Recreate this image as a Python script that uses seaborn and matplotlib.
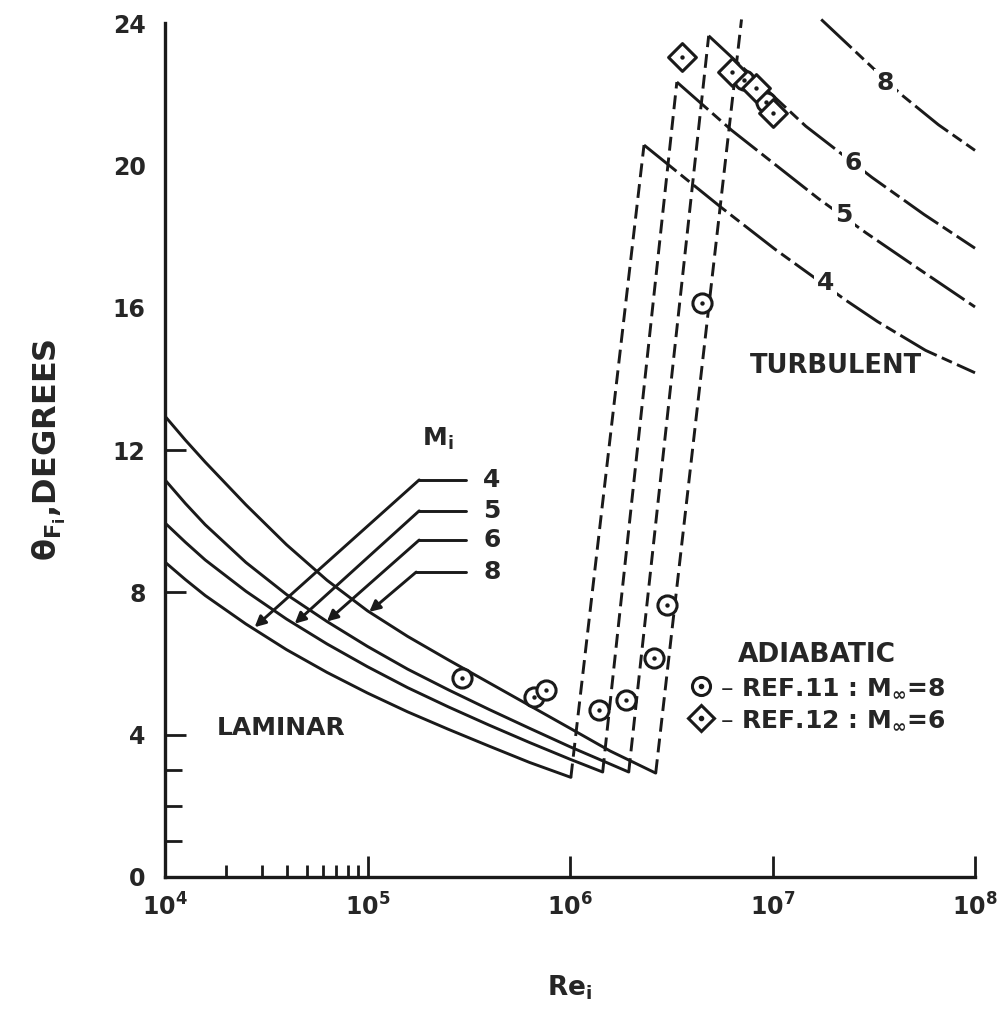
import numpy as np
import pandas as pd
import matplotlib
matplotlib.use("Agg")
import matplotlib.pyplot as plt
import seaborn as sns
from matplotlib.lines import Line2D
from matplotlib.legend_handler import HandlerTuple
from matplotlib.ticker import FixedLocator, NullFormatter

# ---------------- data ----------------
mach_labels = ["4", "5", "6", "8"]

# laminar curves (solid)
lam_re_m4 = [1e4, 1.26e4, 1.58e4, 2.51e4, 3.98e4, 6.31e4, 1e5, 1.58e5, 2.51e5, 3.98e5, 6.31e5, 1.01e6]
lam_th_m4 = [8.85, 8.36, 7.91, 7.11, 6.39, 5.75, 5.17, 4.64, 4.15, 3.68, 3.22, 2.8]
lam_re_m5 = [1e4, 1.26e4, 1.58e4, 2.51e4, 3.98e4, 6.31e4, 1e5, 1.58e5, 2.51e5, 3.98e5, 6.31e5, 1e6, 1.45e6]
lam_th_m5 = [9.95, 9.41, 8.91, 8.03, 7.25, 6.55, 5.91, 5.32, 4.78, 4.27, 3.78, 3.31, 2.95]
lam_re_m6 = [1e4, 1.26e4, 1.58e4, 2.51e4, 3.98e4, 6.31e4, 1e5, 1.58e5, 2.51e5, 3.98e5, 6.31e5, 1e6, 1.95e6]
lam_th_m6 = [11.16, 10.5, 9.9, 8.84, 7.94, 7.18, 6.48, 5.84, 5.26, 4.71, 4.18, 3.66, 2.95]
lam_re_m8 = [1e4, 1.26e4, 1.58e4, 2.51e4, 3.98e4, 6.31e4, 1e5, 1.58e5, 2.51e5, 3.98e5, 6.31e5, 1e6, 1.58e6, 2.65e6]
lam_th_m8 = [12.95, 12.28, 11.66, 10.46, 9.34, 8.34, 7.48, 6.76, 6.10, 5.46, 4.82, 4.18, 3.54, 2.92]

# turbulent curves (long/short dashes)
turb_re_m4 = [2.32e6, 5.6e6, 1.03e7, 2.3e7, 3.3e7, 5.7e7, 1e8]
turb_th_m4 = [20.57, 18.81, 17.64, 16.21, 15.61, 14.80, 14.17]
turb_re_m5 = [3.37e6, 6.3e6, 1.69e7, 2.9e7, 5.4e7, 1e8]
turb_th_m5 = [22.34, 20.98, 19.06, 18.1, 17.05, 16.02]
turb_re_m6 = [4.84e6, 1.46e7, 3.1e7, 5.6e7, 1e8]
turb_th_m6 = [23.64, 21.1, 19.66, 18.62, 17.67]
turb_re_m8 = [1.74e7, 4.3e7, 6.6e7, 1e8]
turb_th_m8 = [24.1, 22.0, 21.14, 20.42]
turb_top_re_m8 = 7.03e6   # where the M=8 transition leaves the chart
turb_top_th_m8 = 24.1

# experimental points
ref11_re = [2.94e5, 6.65e5, 7.6e5, 1.39e6, 1.89e6, 2.6e6, 3.0e6, 4.47e6, 7.2e6, 9.3e6]
ref11_th = [5.59, 5.06, 5.26, 4.69, 4.97, 6.15, 7.64, 16.13, 22.4, 21.78]
ref12_re = [3.56e6, 6.28e6, 8.3e6, 1.01e7]
ref12_th = [23.05, 22.63, 22.17, 21.47]

x_ticks = [1e4, 1e5, 1e6, 1e7, 1e8]
x_ticklabels = [r"$\mathbf{10^{4}}$", r"$\mathbf{10^{5}}$", r"$\mathbf{10^{6}}$",
                r"$\mathbf{10^{7}}$", r"$\mathbf{10^{8}}$"]
x_minor = [2e4, 3e4, 4e4, 5e4, 6e4, 7e4, 8e4, 9e4]
y_ticks = [0, 4, 8, 12, 16, 20, 24]
y_minor = [1, 2, 3]

# ---------------- style ----------------
sns.set_theme(style="white")
plt.rcParams['font.family'] = ['DejaVu Sans']
plt.rcParams['font.weight'] = 'bold'
plt.rcParams['mathtext.fontset'] = 'dejavusans'
plt.rcParams['mathtext.default'] = 'bf'
plt.rcParams['lines.scale_dashes'] = False

fig = plt.figure(figsize=(10.07, 10.25), dpi=100)
ax = fig.add_axes([165/1007, 1-877/1025, 810/1007, (877-23)/1025])
ax.set_xscale('log')
ax.set_xlim(1e4, 1e8)
ax.set_ylim(0, 24)

LW = 2.1
lam = [(lam_re_m4, lam_th_m4), (lam_re_m5, lam_th_m5), (lam_re_m6, lam_th_m6), (lam_re_m8, lam_th_m8)]
turb = [(turb_re_m4, turb_th_m4), (turb_re_m5, turb_th_m5), (turb_re_m6, turb_th_m6), (turb_re_m8, turb_th_m8)]

for (lr, lt) in lam:
    sns.lineplot(x=lr, y=lt, ax=ax, color='k', lw=LW, sort=False, estimator=None)

turb_style = (0, (30, 4, 8, 4))
for (tr, tt) in turb:
    sns.lineplot(x=tr, y=tt, ax=ax, color='k', lw=LW, sort=False, estimator=None,
                 linestyle=turb_style, clip_on=False)

# transition (dashed) lines from laminar end to turbulent start
trans_end_re = [turb_re_m4[0], turb_re_m5[0], turb_re_m6[0], turb_top_re_m8]
trans_end_th = [turb_th_m4[0], turb_th_m5[0], turb_th_m6[0], turb_top_th_m8]
for (lr, lt), er, et in zip(lam, trans_end_re, trans_end_th):
    sns.lineplot(x=[lr[-1], er], y=[lt[-1], et], ax=ax, color='k', lw=LW, sort=False,
                 estimator=None, linestyle=(0, (10, 5)), clip_on=False)

# turbulent curve labels
turb_lab_pos = [(1.82e7, 16.7), (2.24e7, 18.6), (2.5e7, 20.07), (3.6e7, 22.3)]
for lab, (px, py) in zip(mach_labels, turb_lab_pos):
    ax.text(px, py, lab, fontsize=18, fontweight='bold', ha='center', va='center',
            bbox=dict(facecolor='white', edgecolor='none', pad=2), zorder=4)

# experimental points
sns.scatterplot(x=ref11_re, y=ref11_th, ax=ax, marker='o', s=190, facecolor='white',
                edgecolor='k', linewidth=2.2, zorder=5)
sns.scatterplot(x=ref11_re, y=ref11_th, ax=ax, marker='o', s=10, color='k',
                edgecolor='k', linewidth=0, zorder=5)
sns.scatterplot(x=ref12_re, y=ref12_th, ax=ax, marker='D', s=200, facecolor='white',
                edgecolor='k', linewidth=2.2, zorder=6)
sns.scatterplot(x=ref12_re, y=ref12_th, ax=ax, marker='o', s=10, color='k',
                edgecolor='k', linewidth=0, zorder=6)

# M_i leaders
corner_re = [1.8e5, 1.8e5, 1.8e5, 1.74e5]
line_end_re = 3.06e5
leader_th = [11.16, 10.29, 9.47, 8.57]
tip_re = [2.77e4, 4.37e4, 6.3e4, 1.02e5]
tip_th = [7.02, 7.12, 7.18, 7.45]
for lab, cr, lt, tr, tt in zip(mach_labels, corner_re, leader_th, tip_re, tip_th):
    ax.plot([cr, line_end_re], [lt, lt], color='k', lw=LW)
    ax.annotate('', xy=(tr, tt), xytext=(cr, lt),
                arrowprops=dict(arrowstyle='-|>', color='k', lw=LW, mutation_scale=16,
                                shrinkA=0, shrinkB=0))
    ax.text(3.72e5, lt, lab, fontsize=18, fontweight='bold', ha='left', va='center')
ax.text(2.22e5, 12.3, r"$\mathbf{M_{i}}$", fontsize=18, ha='center', va='center')

ax.text(3.75e4, 4.2, "LAMINAR", fontsize=18, fontweight='bold', ha='center', va='center')
ax.text(2.05e7, 14.35, "TURBULENT", fontsize=18.5, fontweight='bold', ha='center', va='center')

# legend
h11 = (Line2D([], [], marker='o', ms=13, mfc='white', mec='k', mew=2.2, ls=''),
       Line2D([], [], marker='o', ms=3, color='k', ls=''))
h12 = (Line2D([], [], marker='D', ms=13, mfc='white', mec='k', mew=2.2, ls=''),
       Line2D([], [], marker='o', ms=3, color='k', ls=''))
leg = ax.legend([h11, h12], [r"– REF.11 : M$_{\infty}$=8", r"– REF.12 : M$_{\infty}$=6"],
                title="ADIABATIC", handler_map={tuple: HandlerTuple(ndivide=1)},
                frameon=False, loc='upper left', bbox_to_anchor=(676/1007, 1-629/1025),
                bbox_transform=fig.transFigure, fontsize=18, title_fontsize=19,
                handlelength=1.0, handletextpad=0.25, labelspacing=0.32, borderpad=0)
leg.get_title().set_fontweight('bold')
for t in leg.get_texts():
    t.set_fontweight('bold')

# axes / ticks
sns.despine(ax=ax)
for s in ['left', 'bottom']:
    ax.spines[s].set_linewidth(2.4)
    ax.spines[s].set_color('k')
ax.set_xticks(x_ticks)
ax.set_xticklabels(x_ticklabels, fontsize=17)
ax.xaxis.set_minor_locator(FixedLocator(x_minor))
ax.xaxis.set_minor_formatter(NullFormatter())
ax.set_yticks(y_ticks)
ax.set_yticklabels([str(v) for v in y_ticks], fontsize=17, fontweight='bold')
ax.yaxis.set_minor_locator(FixedLocator(y_minor))
ax.tick_params(axis='both', which='both', direction='in', color='k', width=2, bottom=True, left=True)
ax.tick_params(axis='x', which='major', length=15, pad=12)
ax.tick_params(axis='x', which='minor', length=9)
ax.tick_params(axis='y', which='major', length=15, pad=14)
ax.tick_params(axis='y', which='minor', length=12)
for tk, v in zip(ax.yaxis.get_major_ticks(), y_ticks):
    if v == 0 or v >= 16:
        tk.tick1line.set_visible(False)
ax.grid(False)

ax.set_xlabel(r"$\mathbf{Re_{i}}$", fontsize=19, labelpad=38)
ax.set_ylabel(r"$\theta_{F_{i}}$,DEGREES", fontsize=23, fontweight='bold', labelpad=32)

fig.savefig("out.png", dpi=100, facecolor='white')
